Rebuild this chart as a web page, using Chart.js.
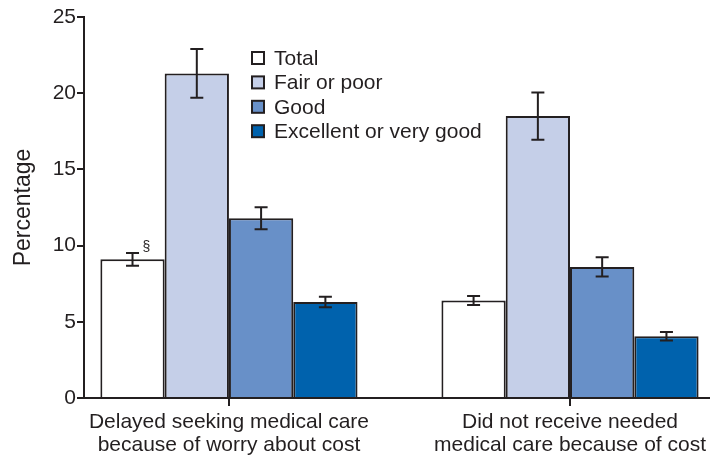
<!DOCTYPE html>
<html>
<head>
<meta charset="utf-8">
<script src="https://cdn.jsdelivr.net/npm/chart.js@4/dist/chart.umd.min.js"></script>
<style>
  html, body { margin: 0; padding: 0; background: #fff; }
  #wrap { width: 710px; height: 458px; position: relative; }
</style>
</head>
<body>
<div id="wrap"><canvas id="chart"></canvas></div>
<script>
// categories (x positions 0 and 1)
const categories = [
    ['Delayed seeking medical care', 'because of worry about cost'],
    ['Did not receive needed', 'medical care because of cost']
];
const seriesNames = ['Total', 'Fair or poor', 'Good', 'Excellent or very good'];
const seriesColors = ['#ffffff', '#c5cfe8', '#6890c8', '#0062ad'];

// values per series (one per category)
const totalValues = [9.1, 6.4];
const fairPoorValues = [21.3, 18.5];
const goodValues = [11.8, 8.6];
const excellentValues = [6.3, 4.05];

// half-width of the 95% confidence intervals
const totalErrors = [0.42, 0.3];
const fairPoorErrors = [1.6, 1.55];
const goodErrors = [0.72, 0.63];
const excellentErrors = [0.35, 0.28];

// footnote marks above the total bars
const totalNotes = ['§', ''];

const yTicks = [0, 5, 10, 15, 20, 25];

const INK = '#231f20';
const FONT = "'Liberation Sans', Arial, sans-serif";

const seriesValues = [totalValues, fairPoorValues, goodValues, excellentValues];
const seriesErrors = [totalErrors, fairPoorErrors, goodErrors, excellentErrors];

const datasets = seriesNames.map((name, s) => ({
    label: name,
    data: seriesValues[s].map((v, i) => ({ x: i, y: v })),
    errors: seriesErrors[s],
    backgroundColor: seriesColors[s],
    borderColor: INK,
    borderWidth: 2,
    categoryPercentage: 0.754,
    barPercentage: 1.0
}));

// error bars + footnote marks
const errorBarPlugin = {
    id: 'errorBars',
    afterDatasetsDraw(chart) {
        const ctx = chart.ctx;
        const yScale = chart.scales.y;
        ctx.save();
        ctx.strokeStyle = INK;
        ctx.lineWidth = 2;
        chart.data.datasets.forEach((ds, d) => {
            const meta = chart.getDatasetMeta(d);
            meta.data.forEach((bar, i) => {
                const v = ds.data[i].y;
                const e = ds.errors[i];
                const top = yScale.getPixelForValue(v + e);
                const bot = yScale.getPixelForValue(v - e);
                const cap = 6.5;
                ctx.beginPath();
                ctx.moveTo(bar.x, top);
                ctx.lineTo(bar.x, bot);
                ctx.moveTo(bar.x - cap, top);
                ctx.lineTo(bar.x + cap, top);
                ctx.moveTo(bar.x - cap, bot);
                ctx.lineTo(bar.x + cap, bot);
                ctx.stroke();
                if (d === 0 && totalNotes[i]) {
                    ctx.fillStyle = INK;
                    ctx.font = '14px ' + FONT;
                    ctx.textAlign = 'left';
                    ctx.textBaseline = 'middle';
                    ctx.fillText(totalNotes[i], bar.x + 10, top - 6);
                }
            });
        });
        ctx.restore();
    }
};

// small tick marks under the axis at each category centre
const categoryTickPlugin = {
    id: 'categoryTicks',
    afterDraw(chart) {
        const ctx = chart.ctx;
        const xs = chart.scales.x;
        const base = chart.chartArea.bottom;
        ctx.save();
        ctx.strokeStyle = INK;
        ctx.lineWidth = 2;
        categories.forEach((c, i) => {
            const px = Math.round(xs.getPixelForValue(i));
            ctx.beginPath();
            ctx.moveTo(px, base);
            ctx.lineTo(px, base + 8);
            ctx.stroke();
        });
        ctx.restore();
    }
};

// legend drawn inside the plot area
const insideLegendPlugin = {
    id: 'insideLegend',
    afterDraw(chart) {
        const ctx = chart.ctx;
        const x0 = 252, y0 = 58, step = 24.4, box = 12;
        ctx.save();
        ctx.font = '21px ' + FONT;
        ctx.textAlign = 'left';
        ctx.textBaseline = 'middle';
        chart.data.datasets.forEach((ds, d) => {
            const cy = y0 + d * step;
            ctx.fillStyle = ds.backgroundColor;
            ctx.fillRect(x0, cy - box / 2, box, box);
            ctx.strokeStyle = INK;
            ctx.lineWidth = 2;
            ctx.strokeRect(x0, cy - box / 2, box, box);
            ctx.fillStyle = INK;
            ctx.fillText(ds.label, x0 + 22, cy + 1);
        });
        ctx.restore();
    }
};

new Chart(document.getElementById('chart'), {
    type: 'bar',
    data: { datasets: datasets },
    plugins: [errorBarPlugin, categoryTickPlugin, insideLegendPlugin],
    options: {
        responsive: true,
        maintainAspectRatio: false,
        animation: false,
        layout: { padding: { top: 17, right: 0, left: 0, bottom: 0 } },
        plugins: {
            legend: { display: false },
            tooltip: { enabled: false }
        },
        scales: {
            x: {
                type: 'linear',
                min: -0.425,
                max: 1.41,
                offset: false,
                afterBuildTicks(scale) {
                    scale.ticks = categories.map((c, i) => ({ value: i }));
                },
                afterFit(scale) { scale.height = 60; },
                grid: {
                    display: true,
                    offset: false,
                    drawOnChartArea: false,
                    drawTicks: true,
                    tickLength: 8,
                    color: 'rgba(0,0,0,0)'
                },
                border: { display: true, color: INK, width: 2 },
                ticks: {
                    autoSkip: false,
                    maxRotation: 0,
                    padding: 4,
                    color: INK,
                    font: { family: FONT, size: 21, lineHeight: 1.12 },
                    callback: (value) => categories[value]
                }
            },
            y: {
                min: 0,
                max: 25,
                afterBuildTicks(scale) {
                    scale.ticks = yTicks.map(v => ({ value: v }));
                },
                afterFit(scale) { scale.width = 84; },
                grid: {
                    display: true,
                    offset: false,
                    drawOnChartArea: false,
                    drawTicks: true,
                    tickLength: 7,
                    color: INK,
                    lineWidth: 2
                },
                border: { display: true, color: INK, width: 2 },
                ticks: {
                    padding: 1,
                    color: INK,
                    font: { family: FONT, size: 21 }
                },
                title: {
                    display: true,
                    text: 'Percentage',
                    color: INK,
                    padding: { top: 10, bottom: 0 },
                    font: { family: FONT, size: 23 }
                }
            }
        }
    }
});
</script>
</body>
</html>
